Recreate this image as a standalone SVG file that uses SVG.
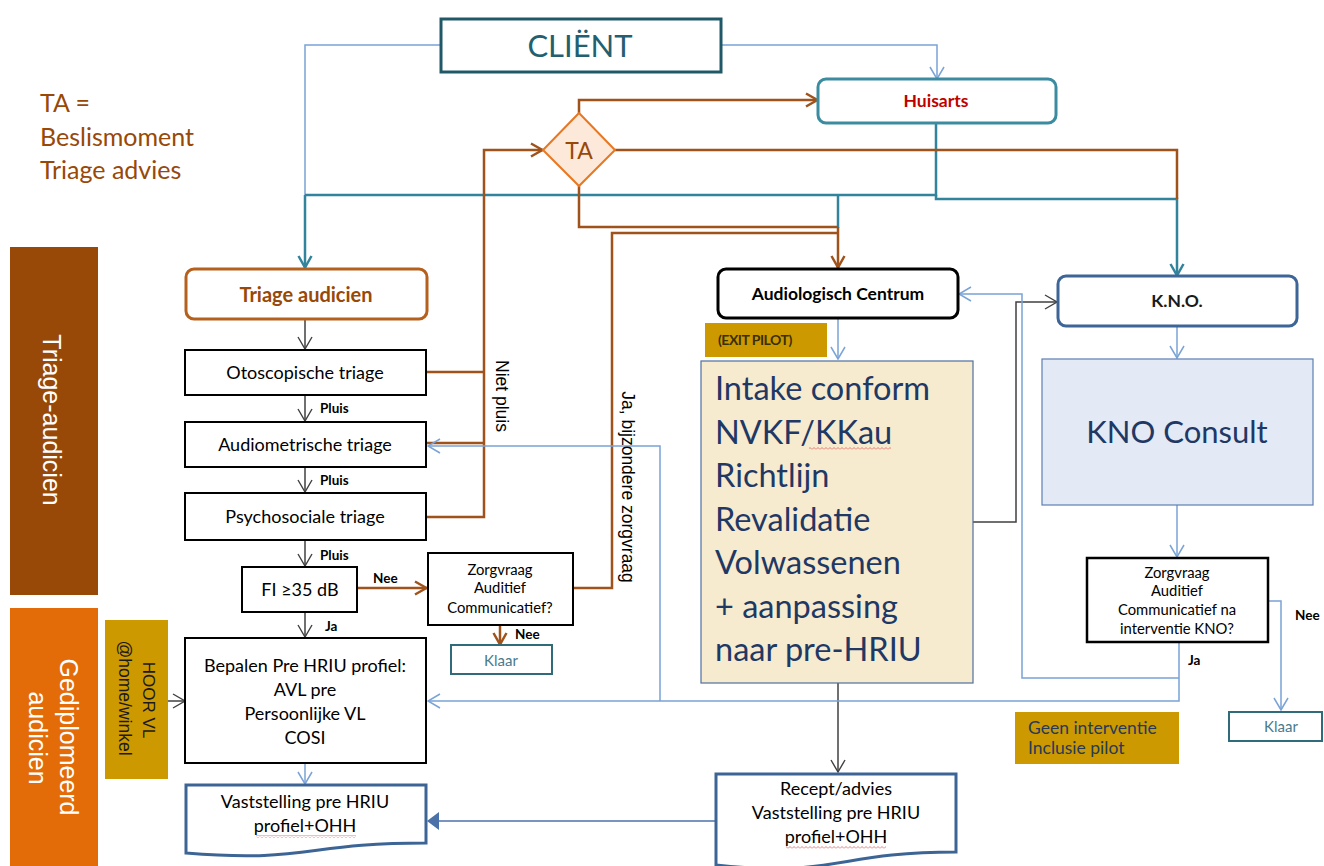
<svg xmlns="http://www.w3.org/2000/svg" width="1324" height="866" viewBox="0 0 1324 866">
  <style>
    .c { font-family: Lato, "Open Sans", sans-serif; }
    .a { font-family: "Liberation Sans", Arial, sans-serif; }
    .box { fill: #ffffff; stroke: #000000; stroke-width: 2; }
    .doc { fill: #ffffff; stroke: #3c6596; stroke-width: 3; }
    .gold { fill: #cc9900; }
    .klaar { fill: #ffffff; stroke: #2f6b78; stroke-width: 2; }
    .t16 { font-size: 18px; fill: #000; text-anchor: middle; }
    .t13 { font-size: 14.8px; fill: #000; text-anchor: middle; }
    .ttl { font-size: 17.5px; font-weight: bold; text-anchor: middle; }
    .lbl { font-size: 13.5px; font-weight: bold; fill: #000; }
    .big { font-size: 32.5px; fill: #1f3864; }
    .blue { fill: none; stroke: #7aa3d6; stroke-width: 1.5; }
    .teal { fill: none; stroke: #31849b; stroke-width: 2.5; }
    .brown { fill: none; stroke: #a0521b; stroke-width: 2.5; }
    .gray { fill: none; stroke: #404040; stroke-width: 1.5; }
  </style>
  <defs>
    <marker id="aBlue" markerUnits="userSpaceOnUse" viewBox="0 0 14 16" refX="13" refY="8" markerWidth="14" markerHeight="16" orient="auto">
      <path d="M1,1 L13,8 L1,15" fill="none" stroke="#7aa3d6" stroke-width="1.5"/>
    </marker>
    <marker id="aTeal" markerUnits="userSpaceOnUse" viewBox="0 0 14 16" refX="13" refY="8" markerWidth="14" markerHeight="16" orient="auto">
      <path d="M1,1.5 L12.5,8 L1,14.5" fill="none" stroke="#31849b" stroke-width="2.5"/>
    </marker>
    <marker id="aBrown" markerUnits="userSpaceOnUse" viewBox="0 0 14 16" refX="13" refY="8" markerWidth="14" markerHeight="16" orient="auto">
      <path d="M1,1.5 L12.5,8 L1,14.5" fill="none" stroke="#a0521b" stroke-width="2.5"/>
    </marker>
    <marker id="aGray" markerUnits="userSpaceOnUse" viewBox="0 0 14 16" refX="13" refY="8" markerWidth="14" markerHeight="16" orient="auto">
      <path d="M1,1 L13,8 L1,15" fill="none" stroke="#404040" stroke-width="1.4"/>
    </marker>
    <marker id="tBlue" markerUnits="userSpaceOnUse" viewBox="0 0 12 20" refX="11" refY="10" markerWidth="12" markerHeight="20" orient="auto">
      <path d="M0,1 L12,10 L0,19 Z" fill="#4a72a8"/>
    </marker>
    <pattern id="squig" width="4" height="3" patternUnits="userSpaceOnUse">
      <path d="M0,2.5 L2,0.5 L4,2.5" fill="none" stroke="#e06060" stroke-width="0.8"/>
    </pattern>
  </defs>

  <rect width="1324" height="866" fill="#ffffff"/>

  <!-- legend -->
  <g id="legend" class="c" fill="#984807" font-size="25px">
    <text x="40" y="112">TA =</text>
    <text x="40" y="146">Beslismoment</text>
    <text x="40" y="179">Triage advies</text>
  </g>

  <!-- lane bars -->
  <g id="lane-triage">
    <rect x="10" y="247" width="88" height="348" fill="#984807"/>
    <text class="a" transform="translate(52,420) rotate(90)" text-anchor="middle" dy="0.35em" font-size="25px" fill="#ffffff">Triage-audicien</text>
  </g>
  <g id="lane-gediplomeerd">
    <rect x="10" y="608" width="88" height="258" fill="#e36c09"/>
    <text class="a" transform="translate(69,737) rotate(90)" text-anchor="middle" dy="0.35em" font-size="25px" fill="#ffffff">Gediplomeerd</text>
    <text class="a" transform="translate(38,738) rotate(90)" text-anchor="middle" dy="0.35em" font-size="25px" fill="#ffffff">audicien</text>
  </g>

  <!-- connectors -->
  <g id="connectors">
    <!-- client to triage audicien / huisarts -->
    <path class="blue" d="M441,45 H305 V195"/>
    <path class="teal" d="M305,195 V268" marker-end="url(#aTeal)"/>
    <path class="blue" d="M721,45 H937 V79" marker-end="url(#aBlue)"/>
    <!-- huisarts outputs -->
    <path class="teal" d="M936,123 V195 H305"/>
    <path class="teal" d="M936,195 V199 H1177 V276" marker-end="url(#aTeal)"/>
    <path class="teal" d="M838,195 V228"/>
    <!-- TA decision -->
    <path class="brown" d="M579,113 V100 H818" marker-end="url(#aBrown)"/>
    <path class="brown" d="M615,150 H1177 V199"/>
    <path class="brown" d="M579,186 V227 H838"/>
    <path class="brown" d="M838,227 V268" marker-end="url(#aBrown)"/>
    <path class="brown" d="M427,372 H484 M427,443 H484 M427,517 H484 V150 H543" marker-end="url(#aBrown)"/>
    <path class="brown" d="M573,588 H612 V233 H838"/>
    <!-- triage chain -->
    <path class="gray" d="M305,319 V349" marker-end="url(#aGray)"/>
    <path class="gray" d="M305,395 V421" marker-end="url(#aGray)"/>
    <path class="gray" d="M305,467 V492" marker-end="url(#aGray)"/>
    <path class="gray" d="M305,540 V566" marker-end="url(#aGray)"/>
    <path class="gray" d="M305,612 V637" marker-end="url(#aGray)"/>
    <path class="brown" d="M357,588 H427" marker-end="url(#aBrown)"/>
    <path class="brown" d="M500,625 V645" marker-end="url(#aBrown)"/>
    <path class="gray" d="M168,701 H185" marker-end="url(#aGray)"/>
    <path class="blue" d="M305,763 V784" marker-end="url(#aBlue)"/>
    <!-- audiologisch centrum -->
    <path class="blue" d="M838,318 V359" marker-end="url(#aBlue)"/>
    <path class="gray" d="M838,683 V772" marker-end="url(#aGray)"/>
    <path class="gray" d="M973,522 H1016 V302 H1057" marker-end="url(#aGray)"/>
    <path fill="none" stroke="#4a72a8" stroke-width="1.5" d="M716,821 H428" marker-end="url(#tBlue)"/>
    <!-- KNO -->
    <path class="blue" d="M1177,326 V358" marker-end="url(#aBlue)"/>
    <path class="blue" d="M1177,505 V557" marker-end="url(#aBlue)"/>
    <path class="blue" d="M1268,601 H1281 V710" marker-end="url(#aBlue)"/>
    <path class="blue" d="M1179,642 V701 H428" marker-end="url(#aBlue)"/>
    <path class="blue" d="M660,701 V446 H428" marker-end="url(#aBlue)"/>
    <path class="blue" d="M1179,678 H1022 V294 H959" marker-end="url(#aBlue)"/>
    <!-- connector labels -->
    <text class="a" transform="translate(502,396) rotate(90)" text-anchor="middle" dy="0.35em" font-size="17.5px" fill="#000">Niet pluis</text>
    <text class="a" transform="translate(628,487) rotate(90)" text-anchor="middle" dy="0.35em" font-size="17.5px" fill="#000">Ja, bijzondere zorgvraag</text>
    <g class="c lbl">
      <text x="320" y="413">Pluis</text>
      <text x="320" y="485">Pluis</text>
      <text x="320" y="560">Pluis</text>
      <text x="373" y="583">Nee</text>
      <text x="325" y="631">Ja</text>
      <text x="515" y="639">Nee</text>
      <text x="1188" y="665">Ja</text>
      <text x="1295" y="620">Nee</text>
    </g>
  </g>

  <g id="client">
    <rect x="441" y="19" width="280" height="53" fill="#fff" stroke="#215868" stroke-width="3"/>
    <text class="c" x="580" y="57" text-anchor="middle" font-size="31px" fill="#245f70">CLIËNT</text>
  </g>

  <g id="huisarts">
    <rect x="818" y="79" width="238" height="44" rx="8" fill="#fff" stroke="#3b8ca0" stroke-width="3"/>
    <text class="c ttl" x="936" y="107" fill="#c00000">Huisarts</text>
  </g>

  <g id="ta">
    <path d="M579,113 L615,150 L579,186 L543,150 Z" fill="#fde9d9" stroke="#e87722" stroke-width="2"/>
    <text class="c" x="579" y="159" text-anchor="middle" font-size="23px" fill="#984807">TA</text>
  </g>

  <g id="triage-audicien">
    <rect x="186" y="269" width="241" height="50" rx="8" fill="#fff" stroke="#b5601c" stroke-width="3"/>
    <text class="c" x="306" y="302" text-anchor="middle" font-size="20px" font-weight="bold" fill="#984807">Triage audicien</text>
  </g>

  <g id="otoscopische">
    <rect class="box" x="185" y="350" width="241" height="45"/>
    <text class="c t16" x="305" y="379">Otoscopische triage</text>
  </g>
  <g id="audiometrische">
    <rect class="box" x="185" y="422" width="241" height="45"/>
    <text class="c t16" x="305" y="451">Audiometrische triage</text>
  </g>
  <g id="psychosociale">
    <rect class="box" x="185" y="493" width="241" height="47"/>
    <text class="c t16" x="305" y="523">Psychosociale triage</text>
  </g>
  <g id="fi35">
    <rect class="box" x="242" y="567" width="115" height="45"/>
    <text class="c t16" x="300" y="596">FI ≥35 dB</text>
  </g>
  <g id="zorgvraag-triage">
    <rect class="box" x="428" y="553" width="145" height="72"/>
    <text class="c t13" x="500" y="575">Zorgvraag</text>
    <text class="c t13" x="500" y="593">Auditief</text>
    <text class="c t13" x="500" y="613">Communicatief?</text>
  </g>
  <g id="klaar-triage">
    <rect class="klaar" x="451" y="645" width="101" height="29"/>
    <text class="c" x="501" y="666" text-anchor="middle" font-size="15px" fill="#4c7a8a">Klaar</text>
  </g>

  <g id="hoor-vl">
    <rect class="gold" x="105" y="620" width="63" height="159"/>
    <text class="a" transform="translate(149,700) rotate(90)" text-anchor="middle" dy="0.35em" font-size="17px" fill="#1a1a1a">HOOR VL</text>
    <text class="a" transform="translate(125,698) rotate(90)" text-anchor="middle" dy="0.35em" font-size="17.5px" fill="#1a1a1a">@home/winkel</text>
  </g>

  <g id="bepalen">
    <rect class="box" x="185" y="638" width="241" height="125"/>
    <text class="c t16" x="305" y="672">Bepalen  Pre HRIU profiel:</text>
    <text class="c t16" x="305" y="696">AVL pre</text>
    <text class="c t16" x="305" y="720">Persoonlijke VL</text>
    <text class="c t16" x="305" y="744">COSI</text>
  </g>

  <g id="vaststelling">
    <path class="doc" d="M186,785 H426 V843 C306,843 306,863 186,853 Z"/>
    <text class="c t16" x="305" y="808">Vaststelling pre HRIU</text>
    <text class="c t16" x="305" y="832">profiel+OHH</text>
    <rect x="256" y="835" width="100" height="3" fill="url(#squig)"/>
  </g>

  <g id="audiologisch-centrum">
    <rect x="718" y="269" width="240" height="49" rx="8" fill="#fff" stroke="#000" stroke-width="3"/>
    <text class="c ttl" x="838" y="300" fill="#000">Audiologisch  Centrum</text>
  </g>

  <g id="exit-pilot">
    <rect class="gold" x="705" y="323" width="122" height="34"/>
    <text class="c" x="718" y="345" font-size="14px" font-weight="bold" letter-spacing="-0.5" fill="#3a2f05">(EXIT PILOT)</text>
  </g>

  <g id="intake">
    <rect x="701" y="361" width="272" height="322" fill="#f6ebcf" stroke="#4f6ea0" stroke-width="1.2"/>
    <g class="c big">
      <text x="715" y="400">Intake conform</text>
      <text x="715" y="444">NVKF/KKau</text>
      <text x="715" y="487">Richtlijn</text>
      <text x="715" y="531">Revalidatie</text>
      <text x="715" y="574">Volwassenen</text>
      <text x="715" y="618">+ aanpassing</text>
      <text x="715" y="661">naar pre-HRIU</text>
    </g>
    <rect x="809" y="447" width="82" height="3" fill="url(#squig)"/>
  </g>

  <g id="recept">
    <path class="doc" d="M716,774 H956 V852 C836,852 836,878 716,865 Z"/>
    <text class="c t16" x="836" y="795">Recept/advies</text>
    <text class="c t16" x="836" y="819">Vaststelling pre HRIU</text>
    <text class="c t16" x="836" y="843">profiel+OHH</text>
    <rect x="786" y="846" width="100" height="3" fill="url(#squig)"/>
  </g>

  <g id="kno">
    <rect x="1058" y="276" width="239" height="50" rx="8" fill="#fff" stroke="#3d6597" stroke-width="3"/>
    <text class="c ttl" x="1177" y="307" fill="#1a1a1a">K.N.O.</text>
  </g>

  <g id="kno-consult">
    <rect x="1042" y="359" width="271" height="146" fill="#e3eaf5" stroke="#5b7fb5" stroke-width="1.2"/>
    <text class="c" x="1177" y="443" text-anchor="middle" font-size="31px" fill="#1f3864">KNO Consult</text>
  </g>

  <g id="zorgvraag-kno">
    <rect x="1087" y="558" width="181" height="84" fill="#fff" stroke="#000" stroke-width="2.5"/>
    <text class="c t13" x="1177" y="578">Zorgvraag</text>
    <text class="c t13" x="1177" y="596">Auditief</text>
    <text class="c t13" x="1177" y="615">Communicatief  na</text>
    <text class="c t13" x="1177" y="634">interventie KNO?</text>
  </g>

  <g id="klaar-kno">
    <rect class="klaar" x="1229" y="712" width="93" height="29"/>
    <text class="c" x="1281" y="732" text-anchor="middle" font-size="15px" fill="#4c7a8a">Klaar</text>
  </g>

  <g id="geen-interventie">
    <rect class="gold" x="1015" y="712" width="164" height="52"/>
    <text class="c" x="1028" y="734" font-size="17.5px" fill="#263a58">Geen interventie</text>
    <text class="c" x="1028" y="754" font-size="17.5px" fill="#263a58">Inclusie  pilot</text>
  </g>
</svg>
